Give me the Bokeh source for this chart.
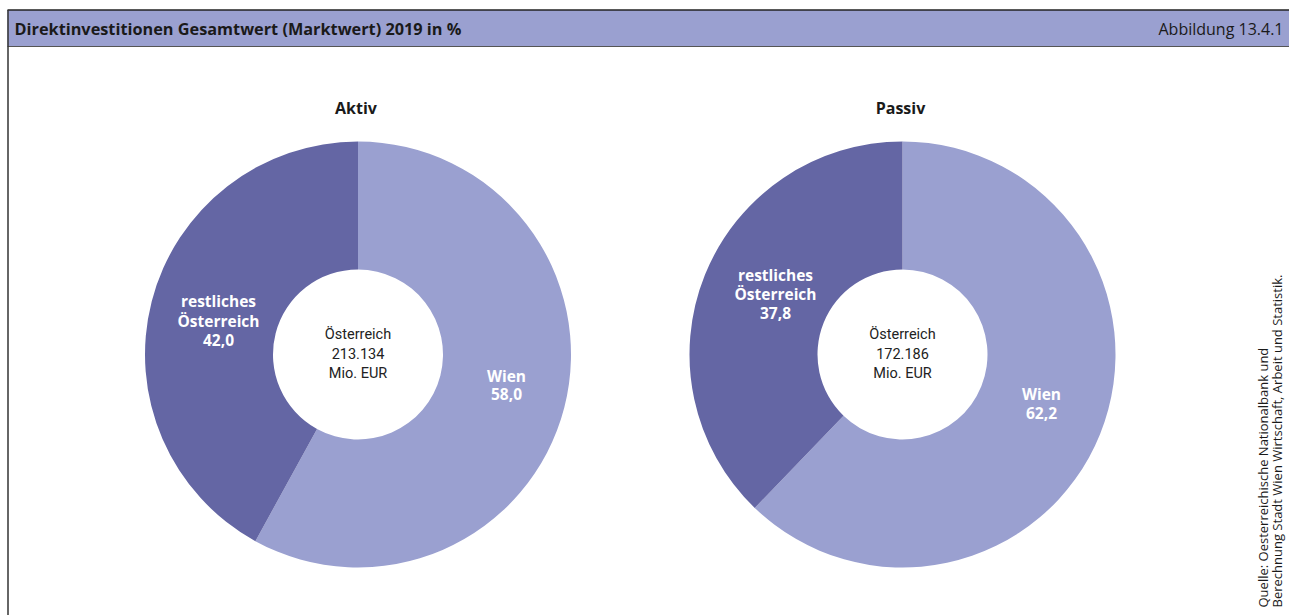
import math
from bokeh.plotting import figure
from bokeh.models import Range1d, ColumnDataSource
from bokeh.core.properties import value
from bokeh.embed import file_html
from bokeh.resources import INLINE

# ---- data ----
categories = ["Wien", "restliches Österreich"]
aktiv = [58.0, 42.0]
passiv = [62.2, 37.8]
panel_titles = ["Aktiv", "Passiv"]
totals = ["213.134", "172.186"]
title = "Direktinvestitionen Gesamtwert (Marktwert) 2019 in %"
fig_label = "Abbildung 13.4.1"
source_lines = ["Quelle: Oesterreichische Nationalbank und",
                "Berechnung Stadt Wien Wirtschaft, Arbeit und Statistik."]

W, H = 1289, 615
COL_WIEN = "#9aa0d0"
COL_REST = "#6466a4"
FONT = "Open Sans"

p = figure(width=W, height=H, output_backend="svg", toolbar_location=None,
           x_range=Range1d(0, W), y_range=Range1d(0, H), min_border=0)
p.axis.visible = False
p.grid.visible = False
p.outline_line_color = None
p.background_fill_color = "white"

# header bar
p.quad(left=7, right=W, top=605.5, bottom=569, fill_color="#9aa0d0",
       line_color=None)
p.segment(x0=7, y0=605.5, x1=W, y1=605.5, line_color="#222222", line_width=1.5)
p.segment(x0=7, y0=569, x1=W, y1=569, line_color="#555555", line_width=1)
p.segment(x0=7.5, y0=0, x1=7.5, y1=605.5, line_color="#333333", line_width=1.5)

p.text(x=[14], y=[587], text=[title], text_font=value(FONT), text_font_style="bold",
       text_font_size="16.3px", text_baseline="middle", text_align="left", text_color="#1a1a1a")
p.text(x=[1283], y=[587], text=[fig_label], text_font=value(FONT),
       text_font_size="16px", text_baseline="middle", text_align="right", text_color="#1a1a1a")

centers = [(357.5, 261), (902, 261)]
R_OUT, R_IN = 213, 85
label_pos = [
    {"rest": (218, [315, 295, 276]), "wien": (506, [240, 222])},
    {"rest": (775, [341, 322, 303]), "wien": (1041, [222, 203])},
]

def fmt(v):
    return f"{v:.1f}".replace(".", ",")

for i, vals in enumerate([aktiv, passiv]):
    cx, cy = centers[i]
    wien, rest = vals
    tot = wien + rest
    top = math.pi / 2
    starts = [top - 2 * math.pi * wien / tot, top]
    ends = [top, top + 2 * math.pi * rest / tot]
    src = ColumnDataSource(dict(x=[cx, cx], y=[cy, cy], start=starts, end=ends,
                                color=[COL_WIEN, COL_REST], cat=categories))
    p.annular_wedge(x="x", y="y", inner_radius=R_IN, outer_radius=R_OUT,
                    start_angle="start", end_angle="end", fill_color="color",
                    line_color=None, source=src)
    # panel title
    p.text(x=[cx - 2], y=[508], text=[panel_titles[i]], text_font=value(FONT),
           text_font_style="bold", text_font_size="16px", text_align="center",
           text_baseline="middle", text_color="#1a1a1a")
    # center text
    ctext = ["Österreich", totals[i], "Mio. EUR"]
    p.text(x=[cx] * 3, y=[281, 262, 242], text=ctext, text_font=value("Roboto"),
           text_font_size="14.5px", text_align="center", text_baseline="middle",
           text_color="#222222")
    # slice labels
    rx, rys = label_pos[i]["rest"]
    p.text(x=[rx] * 3, y=rys, text=["restliches", "Österreich", fmt(rest)],
           text_font=value(FONT), text_font_style="bold", text_font_size="15.5px",
           text_align="center", text_baseline="middle", text_color="white")
    wx, wys = label_pos[i]["wien"]
    p.text(x=[wx] * 2, y=wys, text=["Wien", fmt(wien)],
           text_font=value(FONT), text_font_style="bold", text_font_size="15.5px",
           text_align="center", text_baseline="middle", text_color="white")

# source text (rotated)
p.text(x=[1262, 1276], y=[8, 8], text=source_lines, angle=math.pi / 2,
       text_font=value(FONT), text_font_size="13px", text_align="left",
       text_baseline="middle", text_color="#1a1a1a")

open("out.html", "w").write(file_html(p, INLINE))
